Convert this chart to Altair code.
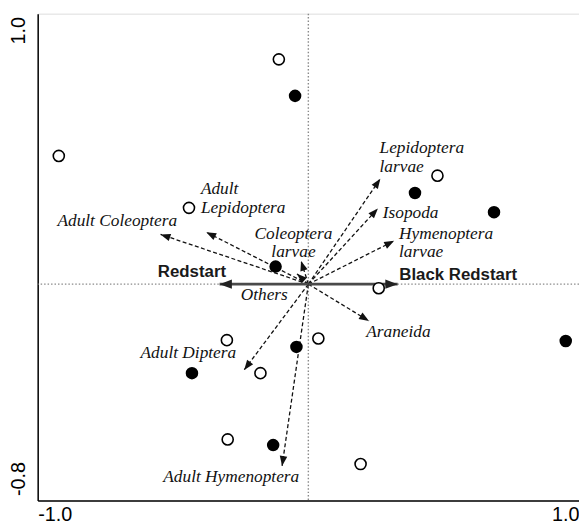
import altair as alt
import pandas as pd
import numpy as np

# Sample scores (open = one group, filled = other group)
open_x = [-0.109, -0.922, -0.441, 0.477, 0.260, -0.301, 0.037, -0.177, -0.298, 0.193]
open_y = [0.831, 0.474, 0.282, 0.401, -0.015, -0.207, -0.201, -0.329, -0.574, -0.665]
filled_x = [-0.049, 0.394, 0.686, -0.121, 0.951, -0.044, -0.430, -0.130]
filled_y = [0.696, 0.337, 0.266, 0.065, -0.210, -0.232, -0.329, -0.595]

# Prey-category vectors (dashed arrows)
arrow_names = ["Lepidoptera larvae", "Isopoda", "Hymenoptera larvae", "Araneida",
               "Adult Coleoptera", "Adult Lepidoptera", "Coleoptera larvae", "Others",
               "Adult Diptera", "Adult Hymenoptera"]
arrow_x = [0.266, 0.257, 0.317, 0.224, -0.546, -0.377, -0.027, -0.042, -0.237, -0.097]
arrow_y = [0.390, 0.280, 0.160, -0.136, 0.184, 0.192, 0.086, 0.038, -0.317, -0.672]

# Species vectors (solid arrows)
species_names = ["Redstart", "Black Redstart"]
species_x = [-0.328, 0.330]
species_y = [0.0, 0.0]

# Italic labels
label_text = ["Lepidoptera\nlarvae", "Isopoda", "Hymenoptera\nlarvae", "Araneida",
              "Adult Coleoptera", "Adult\nLepidoptera", "Coleoptera\nlarvae", "Others",
              "Adult Diptera", "Adult Hymenoptera"]
label_x = [0.263, 0.275, 0.335, 0.214, -0.927, -0.397, -0.055, -0.250, -0.620, -0.536]
label_y = [0.503, 0.264, 0.187, -0.178, 0.233, 0.352, 0.187, -0.040, -0.255, -0.713]
label_align = ["left", "left", "left", "left", "left", "left", "center", "left", "left", "left"]

# Bold species labels
species_label_x = [-0.556, 0.336]
species_label_y = [0.045, 0.034]

X_RANGE = [-1.0, 1.0]
Y_RANGE = [-0.8, 1.0]
W, H = 547, 492

xs = alt.Scale(domain=X_RANGE, nice=False, zero=False)
ys = alt.Scale(domain=Y_RANGE, nice=False, zero=False)
lbl_expr = "datum.value < 0 ? '-' + format(-datum.value, '.1f') : format(datum.value, '.1f')"
xaxis = alt.Axis(values=X_RANGE, labelExpr=lbl_expr, title=None, grid=False, ticks=False,
                 labelFlush=True, labelFontSize=20, labelFont="Liberation Sans",
                 labelColor="black", labelPadding=4, domainColor="black", domainWidth=1.5)
yaxis = alt.Axis(values=Y_RANGE, labelExpr=lbl_expr, title=None, grid=False, ticks=False,
                 labelAngle=270,
                 labelAlign={"condition": {"test": "datum.value > 0", "value": "right"}, "value": "left"},
                 labelBaseline="alphabetic",
                 labelOffset={"condition": {"test": "datum.value > 0", "value": 3}, "value": -5},
                 labelFontSize=20, labelFont="Liberation Sans", labelFlush=False,
                 labelColor="black", labelPadding=13, domainColor="black", domainWidth=1.5)


def X(f):
    return alt.X(f, type="quantitative", scale=xs, axis=xaxis)


def Y(f):
    return alt.Y(f, type="quantitative", scale=ys, axis=yaxis)


sx = W / (X_RANGE[1] - X_RANGE[0])
sy = H / (Y_RANGE[1] - Y_RANGE[0])

arrows = pd.DataFrame({"name": arrow_names, "x": arrow_x, "y": arrow_y})
arrows["x0"] = 0.0
arrows["y0"] = 0.0
arrows["angle"] = (np.degrees(np.arctan2(arrows["x"] * sx, arrows["y"] * sy)) + 360) % 360

species = pd.DataFrame({"name": species_names, "x": species_x, "y": species_y})
species["x0"] = 0.0
species["y0"] = 0.0
species["angle"] = (np.degrees(np.arctan2(species["x"] * sx, species["y"] * sy)) + 360) % 360

open_df = pd.DataFrame({"x": open_x, "y": open_y})
filled_df = pd.DataFrame({"x": filled_x, "y": filled_y})
labels = pd.DataFrame({"text": label_text, "x": label_x, "y": label_y, "align": label_align})
sp_labels = pd.DataFrame({"text": species_names, "x": species_label_x, "y": species_label_y})
origin = pd.DataFrame({"x": [0.0], "y": [0.0]})

HEAD = "M0,0 L-0.38,1 L0.38,1 Z"

vline = alt.Chart(origin).mark_rule(color="#8a8a8a", strokeDash=[1.5, 2], strokeWidth=1.4).encode(x=X("x"))
hline = alt.Chart(origin).mark_rule(color="#8a8a8a", strokeDash=[1.5, 2], strokeWidth=1.4).encode(y=Y("y"))

shafts = alt.Chart(arrows).mark_rule(color="#111111", strokeDash=[4, 2.5], strokeWidth=1.3).encode(
    x=X("x0"), y=Y("y0"), x2="x:Q", y2="y:Q")
heads = alt.Chart(arrows).mark_point(shape=HEAD, filled=True, color="#111111", opacity=1, size=400).encode(
    x=X("x"), y=Y("y"), angle=alt.Angle("angle:Q", scale=None))

sp_shafts = alt.Chart(species).mark_rule(color="#4a4a4a", strokeWidth=2.6).encode(
    x=X("x0"), y=Y("y0"), x2="x:Q", y2="y:Q")
sp_heads = alt.Chart(species).mark_point(shape=HEAD, filled=True, color="#222222", opacity=1, size=620).encode(
    x=X("x"), y=Y("y"), angle=alt.Angle("angle:Q", scale=None))

open_pts = alt.Chart(open_df).mark_point(shape="circle", filled=False, stroke="black", strokeWidth=1.6,
                                         size=125, opacity=1, fill="white", fillOpacity=1).encode(x=X("x"), y=Y("y"))
filled_pts = alt.Chart(filled_df).mark_circle(color="black", opacity=1, size=160).encode(x=X("x"), y=Y("y"))

text_left = alt.Chart(labels).transform_filter("datum.align == 'left'").mark_text(
    font="Liberation Serif", fontStyle="italic", fontSize=17.5, align="left", baseline="middle",
    lineBreak="\n", lineHeight=19, color="#111111").encode(x=X("x"), y=Y("y"), text="text:N")
text_center = alt.Chart(labels).transform_filter("datum.align == 'center'").mark_text(
    font="Liberation Serif", fontStyle="italic", fontSize=17.5, align="center", baseline="middle",
    lineBreak="\n", lineHeight=19, color="#111111").encode(x=X("x"), y=Y("y"), text="text:N")
sp_text = alt.Chart(sp_labels).mark_text(
    font="Liberation Sans", fontWeight="bold", fontSize=17, align="left", baseline="middle",
    color="#1a1a1a").encode(x=X("x"), y=Y("y"), text="text:N")

chart = alt.layer(vline, hline, shafts, heads, sp_shafts, sp_heads, open_pts, filled_pts,
                  text_left, text_center, sp_text).properties(
    width=W, height=H,
    autosize=alt.AutoSizeParams(type="none"),
    padding={"left": 30, "top": 3, "right": 0, "bottom": 22},
).configure_view(strokeOpacity=0).configure(background="white")

chart.save("out.html", embed_options={"renderer": "svg", "actions": False})
